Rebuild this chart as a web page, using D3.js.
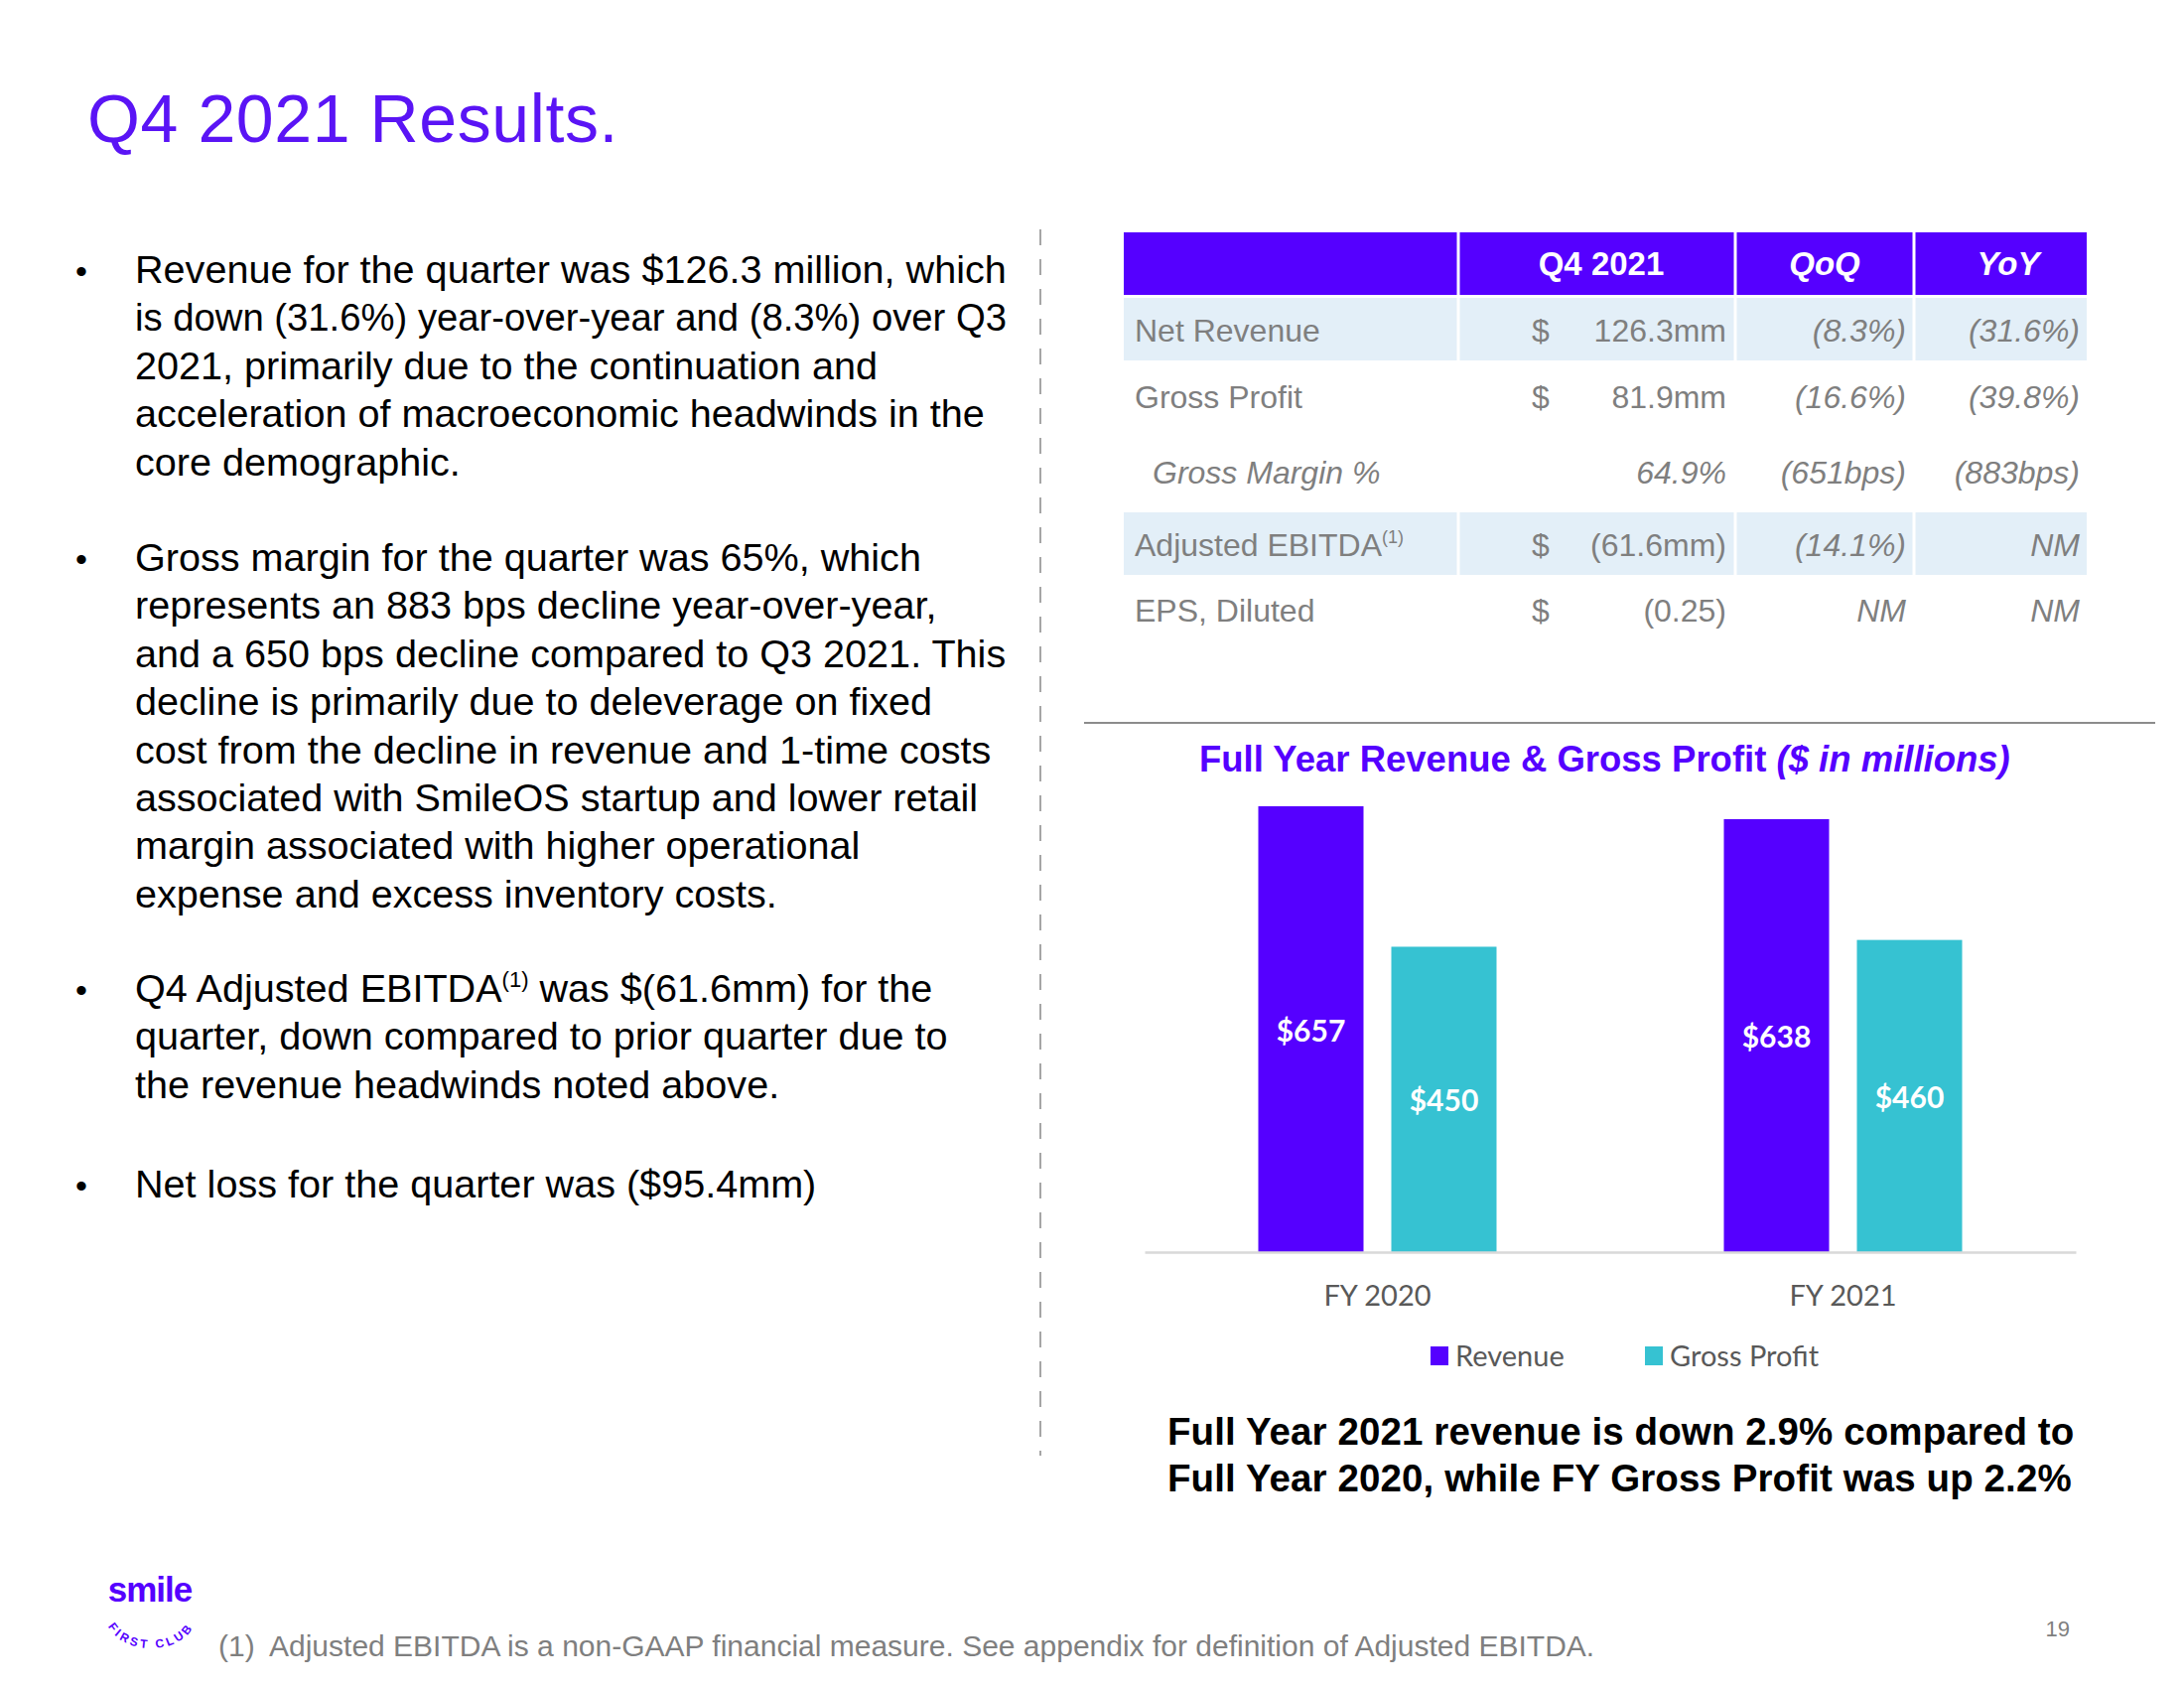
<!DOCTYPE html>
<html><head><meta charset="utf-8">
<script src="https://cdn.jsdelivr.net/npm/d3@7"></script>
<style>
body{margin:0;background:#fff}
svg{display:block}
text{font-family:"Liberation Sans", Arial, sans-serif}
.lato{font-family:Lato, "Open Sans", sans-serif}
</style>
</head><body>
<svg id="c" width="2200" height="1700"></svg>
<script>
// ---------- data ----------
const categories = ["FY 2020", "FY 2021"];
const seriesNames = ["Revenue", "Gross Profit"];
const revenue = [657, 638];
const grossProfit = [450, 460];

const tableHeaders = ["", "Q4 2021", "QoQ", "YoY"];
const rowLabels = ["Net Revenue", "Gross Profit", "Gross Margin %", "Adjusted EBITDA^(1)", "EPS, Diluted"];
const q4Values = ["126.3mm", "81.9mm", "64.9%", "(61.6mm)", "(0.25)"];
const hasDollar = [true, true, false, true, true];
const qoqValues = ["(8.3%)", "(16.6%)", "(651bps)", "(14.1%)", "NM"];
const yoyValues = ["(31.6%)", "(39.8%)", "(883bps)", "NM", "NM"];

const bullets = [
  ["Revenue for the quarter was $126.3 million, which",
   "is down (31.6%) year-over-year and (8.3%) over Q3",
   "2021, primarily due to the continuation and",
   "acceleration of macroeconomic headwinds in the",
   "core demographic."],
  ["Gross margin for the quarter was 65%, which",
   "represents an 883 bps decline year-over-year,",
   "and a 650 bps decline compared to Q3 2021. This",
   "decline is primarily due to deleverage on fixed",
   "cost from the decline in revenue and 1-time costs",
   "associated with SmileOS startup and lower retail",
   "margin associated with higher operational",
   "expense and excess inventory costs."],
  ["Q4 Adjusted EBITDA^(1)^ was $(61.6mm) for the",
   "quarter, down compared to prior quarter due to",
   "the revenue headwinds noted above."],
  ["Net loss for the quarter was ($95.4mm)"]
];
const conclusion = ["Full Year 2021 revenue is down 2.9% compared to",
                    "Full Year 2020, while FY Gross Profit was up 2.2%"];
const footnote = "Adjusted EBITDA is a non-GAAP financial measure. See appendix for definition of Adjusted EBITDA.";

// ---------- style ----------
const PURPLE = "#5500ff";
const TEAL = "#36c2d2";
const LIGHT = "#e3eff8";
const GRAY = "#7f7f7f";

const svg = d3.select("#c");

// helper to write text with ^sup^ markers
function richText(sel, str, supSize) {
  const parts = str.split("^");
  parts.forEach((p, i) => {
    if (!p) return;
    const t = sel.append("tspan").text(p);
    if (i % 2 === 1) {
      t.attr("font-size", supSize).attr("dy", -supSize * 0.7);
    } else if (i > 0) {
      t.attr("dy", supSize * 0.7);
    }
  });
}

// ---------- title ----------
svg.append("text").attr("x", 88).attr("y", 143)
  .attr("font-size", 68).attr("fill", "#5a14f5").attr("letter-spacing", 0.6)
  .text("Q4 2021 Results.");

// ---------- bullets ----------
const bulletStarts = [285, 575, 1009, 1206];
const lineH = 48.4;
const maxLine = 878;
bullets.forEach((lines, bi) => {
  svg.append("text").attr("x", 76).attr("y", bulletStarts[bi])
    .attr("font-size", 34).attr("fill", "#000").text("•");
  lines.forEach((ln, li) => {
    const t = svg.append("text").attr("x", 136).attr("y", bulletStarts[bi] + li * lineH)
      .attr("font-size", 39.6).attr("fill", "#000");
    richText(t, ln, 22);
    const w = t.node().getComputedTextLength();
    if (w > maxLine) t.attr("textLength", maxLine).attr("lengthAdjust", "spacingAndGlyphs");
  });
});

// dashed divider
svg.append("line").attr("x1", 1048).attr("x2", 1048).attr("y1", 231).attr("y2", 1466)
  .attr("stroke", "#a6a6a6").attr("stroke-width", 2).attr("stroke-dasharray", "16,14");

// ---------- table ----------
const colEdges = [1132, 1469, 1748, 1928, 2102];
const gap = 3;
const headTop = 234, headH = 63;
const rowTops = [300, 366, 436, 516, 582];
const rowHs = [63, 66, 77, 63, 63];

const tbl = svg.append("g");
function cellRect(ci, top, h, fill) {
  tbl.append("rect").attr("x", colEdges[ci] + (ci ? gap / 2 : 0)).attr("y", top)
    .attr("width", colEdges[ci + 1] - colEdges[ci] - (ci ? gap / 2 : 0) - (ci < 3 ? gap / 2 : 0))
    .attr("height", h).attr("fill", fill);
}
tableHeaders.forEach((h, ci) => cellRect(ci, headTop, headH, PURPLE));
rowLabels.forEach((r, ri) => {
  if (ri === 0 || ri === 3) for (let ci = 0; ci < 4; ci++) cellRect(ci, rowTops[ri], rowHs[ri], LIGHT);
});
const headCenters = [0, 1613, 1838, 2023];
tableHeaders.forEach((h, ci) => {
  if (!h) return;
  tbl.append("text").attr("x", headCenters[ci]).attr("y", headTop + headH / 2 + 11)
    .attr("text-anchor", "middle").attr("font-size", 33).attr("font-weight", "bold")
    .attr("font-style", ci > 1 ? "italic" : "normal").attr("fill", "#fff").text(h);
});
rowLabels.forEach((r, ri) => {
  const base = rowTops[ri] + rowHs[ri] / 2 + 12;
  const italicRow = ri === 2;
  const lab = tbl.append("text").attr("x", italicRow ? 1161 : 1143).attr("y", base)
    .attr("font-size", 32).attr("fill", GRAY).attr("font-style", italicRow ? "italic" : "normal");
  richText(lab, r, 18);
  if (hasDollar[ri]) {
    tbl.append("text").attr("x", 1552).attr("y", base).attr("text-anchor", "middle")
      .attr("font-size", 32).attr("fill", GRAY).text("$");
  }
  tbl.append("text").attr("x", 1739).attr("y", base).attr("text-anchor", "end")
    .attr("font-size", 32).attr("fill", GRAY).attr("font-style", italicRow ? "italic" : "normal")
    .text(q4Values[ri]);
  tbl.append("text").attr("x", 1920).attr("y", base).attr("text-anchor", "end")
    .attr("font-size", 32).attr("fill", GRAY).attr("font-style", "italic").text(qoqValues[ri]);
  tbl.append("text").attr("x", 2095).attr("y", base).attr("text-anchor", "end")
    .attr("font-size", 32).attr("fill", GRAY).attr("font-style", "italic").text(yoyValues[ri]);
});

// separator line
svg.append("line").attr("x1", 1092).attr("x2", 2171).attr("y1", 728).attr("y2", 728)
  .attr("stroke", "#8c8c8c").attr("stroke-width", 2);

// ---------- chart ----------
const ct = svg.append("text").attr("x", 1208).attr("y", 777)
  .attr("font-size", 36.5).attr("font-weight", "bold").attr("fill", PURPLE);
ct.append("tspan").text("Full Year Revenue & Gross Profit ");
ct.append("tspan").attr("font-style", "italic").text("($ in millions)");

const x0 = d3.scaleBand().domain(categories).range([1153, 2091]).padding(0);
const x1 = d3.scaleBand().domain(seriesNames).range([0, 240]).paddingInner(28 / 134).paddingOuter(0);
const y = d3.scaleLinear().domain([0, d3.max(revenue)]).range([1261, 812]);
const color = d3.scaleOrdinal().domain(seriesNames).range([PURPLE, TEAL]);

const seriesData = [revenue, grossProfit];
const flat = [];
categories.forEach((c, ci) => seriesNames.forEach((s, si) => flat.push({c, s, v: seriesData[si][ci]})));

const chart = svg.append("g");
const barX = d => x0(d.c) + x0.bandwidth() / 2 - 120 + x1(d.s);
chart.selectAll("rect.bar").data(flat).join("rect").attr("class", "bar")
  .attr("x", barX)
  .attr("width", x1.bandwidth())
  .attr("y", d => y(d.v)).attr("height", d => y(0) - y(d.v))
  .attr("fill", d => color(d.s));

chart.selectAll("text.lbl").data(flat).join("text").attr("class", "lbl lato")
  .attr("x", d => barX(d) + x1.bandwidth() / 2)
  .attr("y", d => (y(d.v) + y(0)) / 2 + 12)
  .attr("text-anchor", "middle").attr("font-size", 30).attr("font-weight", "bold")
  .attr("fill", "#fff").style("font-family", "Lato, 'Open Sans', sans-serif")
  .text(d => "$" + d.v);

const xAxis = svg.append("g").attr("transform", `translate(0,${y(0)})`)
  .call(d3.axisBottom(x0).tickSize(0).tickSizeOuter(0).tickPadding(44));
xAxis.select(".domain").attr("stroke", "#d9d9d9").attr("stroke-width", 2.5);
xAxis.selectAll("text").attr("font-size", 29).attr("fill", "#595959")
  .style("font-family", "Lato, 'Open Sans', sans-serif").attr("dy", "0.35em");

// legend
const legX = [1441, 1657];
seriesNames.forEach((s, i) => {
  svg.append("rect").attr("x", legX[i]).attr("y", 1356).attr("width", 18).attr("height", 19)
    .attr("fill", color(s));
  svg.append("text").attr("x", legX[i] + 25).attr("y", 1376).attr("font-size", 29)
    .attr("fill", "#595959").style("font-family", "Lato, 'Open Sans', sans-serif").text(s);
});

// conclusion
conclusion.forEach((ln, i) => {
  svg.append("text").attr("x", 1176).attr("y", 1455 + i * 47).attr("font-size", 38.5)
    .attr("letter-spacing", 0.1).attr("font-weight", "bold").attr("fill", "#000").text(ln);
});

// footnote
svg.append("text").attr("x", 220).attr("y", 1668).attr("font-size", 30).attr("fill", GRAY).text("(1)");
svg.append("text").attr("x", 271).attr("y", 1668).attr("font-size", 30).attr("fill", GRAY).text(footnote);

// page number
svg.append("text").attr("x", 2085).attr("y", 1648).attr("text-anchor", "end")
  .attr("font-size", 22).attr("fill", GRAY).text("19");

// logo
svg.append("text").attr("x", 151).attr("y", 1613).attr("text-anchor", "middle")
  .attr("font-size", 35).attr("font-weight", "bold").attr("letter-spacing", -1)
  .attr("fill", PURPLE).text("smile");
svg.append("defs").append("path").attr("id", "arc")
  .attr("d", "M 106,1626 A 46 34 0 0 0 198,1626");
svg.append("text").attr("font-size", 12).attr("font-weight", "bold").attr("fill", PURPLE)
  .attr("letter-spacing", 3)
  .append("textPath").attr("href", "#arc").attr("startOffset", "50%").attr("text-anchor", "middle")
  .text("FIRST CLUB");
</script>
</body></html>
